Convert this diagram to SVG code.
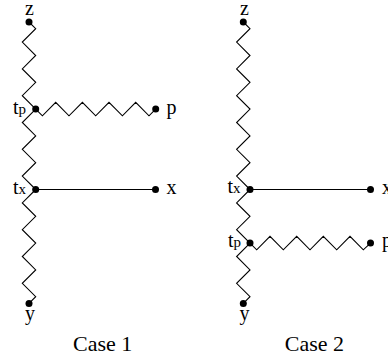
<svg xmlns="http://www.w3.org/2000/svg" width="388" height="358" viewBox="0 0 388 358">
<style>
.e{fill:none;stroke:#000;stroke-width:1.1;stroke-linejoin:miter}
.d{fill:#000}
.t{font-family:"Liberation Serif",serif;font-size:20px;fill:#000}
.s{font-size:15px}
.c{font-family:"Liberation Serif",serif;font-size:22px;fill:#000;text-anchor:middle}
</style>
<rect width="388" height="358" fill="#fff"/>
<g id="connectors">
<polyline class="e" points="29,22 35.7,28.7 22.3,42.1 35.7,55.5 22.3,68.9 35.7,82.3 22.3,95.7 35.7,109.1"/>
<polyline class="e" points="35.7,109.1 22.3,122.5 35.7,135.9 22.3,149.3 35.7,162.7 22.3,176.1 35.7,189.5"/>
<polyline class="e" points="35.7,189.5 22.3,202.9 35.7,216.3 22.3,229.7 35.7,243.1 22.3,256.5 35.7,269.9 22.3,283.3 35.7,296.7 29,303.4"/>
<polyline class="e" points="35.7,109.1 42.4,115.8 55.7,102.4 69,115.8 82.4,102.4 95.7,115.8 109,102.4 122.4,115.8 135.7,102.4 149,115.8 155.7,109.1"/>
<line class="e" x1="35.7" y1="189.5" x2="155.5" y2="189.5"/>
<polyline class="e" points="243.3,22 250,28.7 236.6,42.1 250,55.5 236.6,68.9 250,82.3 236.6,95.7 250,109.1 236.6,122.5 250,135.9 236.6,149.3 250,162.7 236.6,176.1 250,189.5"/>
<polyline class="e" points="250,189.5 236.6,202.9 250,216.3 236.6,229.7 250,243.1"/>
<polyline class="e" points="250,243.1 236.6,256.5 250,269.9 236.6,283.3 250,296.7 243.3,303.4"/>
<polyline class="e" points="250,243.1 256.7,249.8 270,236.4 283.3,249.8 296.7,236.4 310,249.8 323.3,236.4 336.7,249.8 350,236.4 363.3,249.8 370.5,243.1"/>
<line class="e" x1="250" y1="189.5" x2="370.5" y2="189.5"/>
</g>
<g id="c1-z"><circle class="d" cx="29" cy="22" r="3.5"/><text class="t" x="29.5" y="15" text-anchor="middle">z</text></g>
<g id="c1-tp"><circle class="d" cx="35.7" cy="109.1" r="3.5"/><text class="t" x="26" y="113.5" text-anchor="end">t<tspan class="s">p</tspan></text></g>
<g id="c1-p"><circle class="d" cx="155.7" cy="109.1" r="3.5"/><text class="t" x="166.5" y="113.5">p</text></g>
<g id="c1-tx"><circle class="d" cx="35.7" cy="189.5" r="3.5"/><text class="t" x="26" y="193.5" text-anchor="end">t<tspan class="s">x</tspan></text></g>
<g id="c1-x"><circle class="d" cx="155.5" cy="189.5" r="3.5"/><text class="t" x="166.5" y="194">x</text></g>
<g id="c1-y"><circle class="d" cx="29" cy="303.4" r="3.5"/><text class="t" x="30" y="320" text-anchor="middle">y</text></g>
<g id="c1-caption"><text class="c" x="102.7" y="351">Case 1</text></g>
<g id="c2-z"><circle class="d" cx="243.3" cy="22" r="3.5"/><text class="t" x="244.5" y="15" text-anchor="middle">z</text></g>
<g id="c2-tx"><circle class="d" cx="250" cy="189.5" r="3.5"/><text class="t" x="240.5" y="193" text-anchor="end">t<tspan class="s">x</tspan></text></g>
<g id="c2-x"><circle class="d" cx="370.5" cy="189.5" r="3.5"/><text class="t" x="382" y="194">x</text></g>
<g id="c2-tp"><circle class="d" cx="250" cy="243.1" r="3.5"/><text class="t" x="241" y="247" text-anchor="end">t<tspan class="s">p</tspan></text></g>
<g id="c2-p"><circle class="d" cx="370.5" cy="243.1" r="3.5"/><text class="t" x="382" y="247">p</text></g>
<g id="c2-y"><circle class="d" cx="243.3" cy="303.4" r="3.5"/><text class="t" x="244.5" y="320" text-anchor="middle">y</text></g>
<g id="c2-caption"><text class="c" x="314.5" y="351">Case 2</text></g>
</svg>
